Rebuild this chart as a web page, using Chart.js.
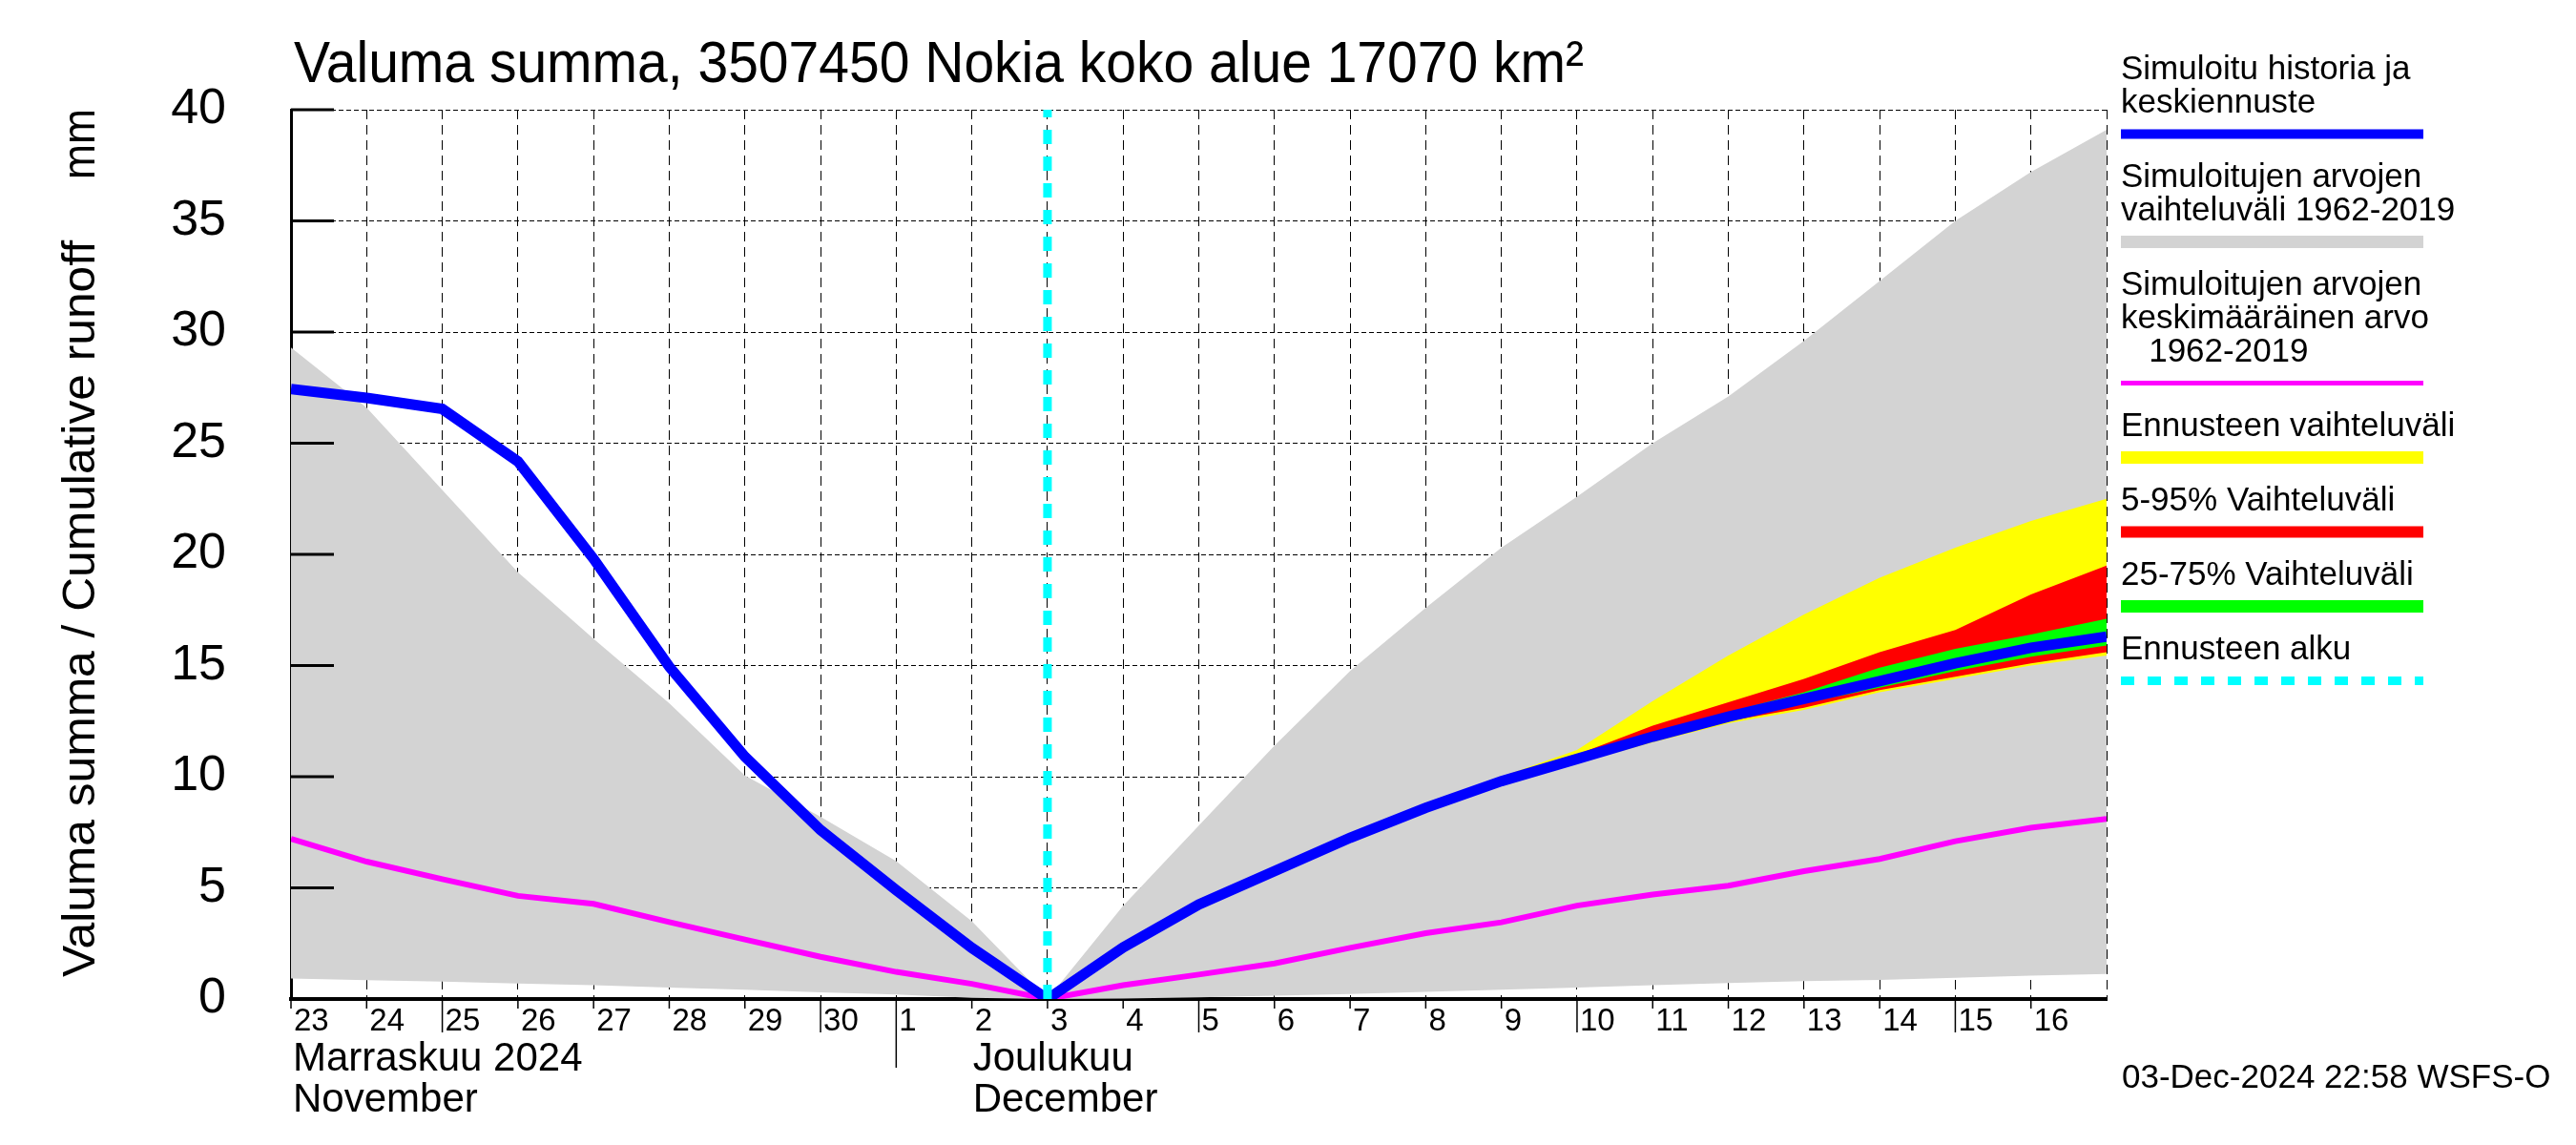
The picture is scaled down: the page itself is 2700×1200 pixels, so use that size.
<!DOCTYPE html>
<html lang="fi">
<head>
<meta charset="UTF-8">
<title>Valuma summa, 3507450 Nokia koko alue 17070 km²</title>
<script src="https://cdn.jsdelivr.net/npm/chart.js@4.4.1/dist/chart.umd.min.js"></script>
<style>
  body { margin: 0; background: #fff; }
  .container { position: relative; width: 2700px; height: 1200px; }
</style>
</head>
<body>
<div class="container"><canvas id="runoff"></canvas></div>
<script>
// x = days since 23 Nov 2024 00:00
const days = [0, 1, 2, 3, 4, 5, 6, 7, 8, 9, 10, 11, 12, 13, 14, 15, 16, 17, 18, 19, 20, 21, 22, 23, 24]
const dayLabels = ['23', '24', '25', '26', '27', '28', '29', '30', '1', '2', '3', '4', '5', '6', '7', '8', '9', '10', '11', '12', '13', '14', '15', '16']
const yTicks = [0, 5, 10, 15, 20, 25, 30, 35, 40]

// simulated history + median forecast (mm)
const simulated = [27.44, 27.04, 26.54, 24.18, 19.8, 14.95, 10.9, 7.6, 4.9, 2.3, 0, 2.32, 4.25, 5.75, 7.25, 8.6, 9.8, 10.8, 11.8, 12.7, 13.5, 14.3, 15.1, 15.8, 16.3]
// 1962-2019 range and mean
const histMax = [29.3, 26.6, 22.9, 19.2, 16.2, 13.3, 10.05, 8.2, 6.2, 3.5, 0, 4.2, 7.8, 11.4, 14.75, 17.6, 20.3, 22.6, 25.0, 27.1, 29.6, 32.3, 35.0, 37.2, 39.1]
const histMin = [0.92, 0.85, 0.78, 0.7, 0.62, 0.52, 0.42, 0.3, 0.2, 0.05, 0, 0.02, 0.07, 0.15, 0.22, 0.32, 0.42, 0.52, 0.62, 0.72, 0.8, 0.86, 0.95, 1.05, 1.13]
const histMean = [7.2, 6.18, 5.39, 4.64, 4.28, 3.46, 2.68, 1.9, 1.22, 0.68, 0, 0.62, 1.1, 1.6, 2.3, 2.96, 3.45, 4.2, 4.7, 5.1, 5.75, 6.3, 7.1, 7.7, 8.1]

// forecast spread, from forecast start
const fcDays = [10, 11, 12, 13, 14, 15, 16, 17, 18, 19, 20, 21, 22, 23, 24]
const fcMax = [0, 2.35, 4.3, 5.82, 7.35, 8.75, 10.0, 11.2, 13.4, 15.45, 17.3, 18.95, 20.3, 21.5, 22.5]
const fcMin = [0, 2.28, 4.2, 5.7, 7.18, 8.5, 9.7, 10.6, 11.55, 12.4, 13.0, 13.8, 14.4, 15.0, 15.45]
const fc95 = [0, 2.34, 4.28, 5.8, 7.32, 8.7, 9.9, 11.0, 12.3, 13.35, 14.4, 15.6, 16.6, 18.2, 19.5]
const fc5 = [0, 2.29, 4.21, 5.71, 7.2, 8.52, 9.72, 10.65, 11.6, 12.5, 13.1, 13.9, 14.5, 15.1, 15.6]
const fc75 = [0, 2.33, 4.26, 5.77, 7.28, 8.63, 9.85, 10.9, 11.95, 12.9, 13.8, 14.9, 15.75, 16.4, 17.1]
const fc25 = [0, 2.3, 4.23, 5.73, 7.22, 8.56, 9.76, 10.72, 11.7, 12.6, 13.3, 14.0, 14.75, 15.4, 15.9]

const forecastStart = 10

const FONT = '"Liberation Sans", Arial, sans-serif'
const pts = (xs, ys) => xs.map((x, i) => ({ x, y: ys[i] }))

const band = (data, color, order, fill) => ({
  data, order,
  fill: fill ? '+1' : false,
  backgroundColor: color,
  borderWidth: 0,
  pointRadius: 0,
})

const legendItems = [
  { lines: ['Simuloitu historia ja', 'keskiennuste'], color: '#0000ff', width: 10 },
  { lines: ['Simuloitujen arvojen', 'vaihteluväli 1962-2019'], color: '#d3d3d3', width: 13 },
  { lines: ['Simuloitujen arvojen', 'keskimääräinen arvo', '   1962-2019'], color: '#ff00ff', width: 5 },
  { lines: ['Ennusteen vaihteluväli'], color: '#ffff00', width: 13 },
  { lines: ['5-95% Vaihteluväli'], color: '#ff0000', width: 12 },
  { lines: ['25-75% Vaihteluväli'], color: '#00ff00', width: 13 },
  { lines: ['Ennusteen alku'], color: '#00ffff', width: 9, dash: [14, 14] },
]

// draw text squeezed/stretched to a given width
const fitText = (ctx, text, x, y, size, width) => {
  ctx.font = size + 'px ' + FONT
  const w = ctx.measureText(text).width
  ctx.save()
  ctx.translate(x, y)
  ctx.scale(width / w, 1)
  ctx.fillText(text, 0, 0)
  ctx.restore()
}

const extras = {
  id: 'extras',
  afterDraw(chart) {
    const { ctx, chartArea: a, scales: { x, y } } = chart
    const line = (x1, y1, x2, y2) => {
      ctx.beginPath(); ctx.moveTo(x1, y1); ctx.lineTo(x2, y2); ctx.stroke()
    }
    ctx.save()
    ctx.strokeStyle = '#000'
    ctx.lineWidth = 3
    yTicks.forEach(v => {
      const py = y.getPixelForValue(v)
      line(a.left, py, a.left + 45, py)
    })
    ctx.lineWidth = 1.5
    dayLabels.forEach((lab, d) => {
      const px = x.getPixelForValue(d)
      const len = d === 8 ? 72 : (Number(lab) % 5 === 0 ? 35 : 10)
      line(px, a.bottom, px, a.bottom + len)
    })

    ctx.fillStyle = '#000'
    ctx.textBaseline = 'alphabetic'
    ctx.textAlign = 'left'

    fitText(ctx, 'Valuma summa, 3507450 Nokia koko alue 17070 km²', 308, 86, 62, 1352)

    ctx.font = '42px ' + FONT
    ctx.fillText('Marraskuu 2024', x.getPixelForValue(0) + 2, 1122)
    ctx.fillText('November', x.getPixelForValue(0) + 2, 1165)
    ctx.fillText('Joulukuu', x.getPixelForValue(9) + 1, 1122)
    ctx.fillText('December', x.getPixelForValue(9) + 1, 1165)

    ctx.font = '35px ' + FONT
    ctx.fillText('03-Dec-2024 22:58 WSFS-O', 2224, 1140)

    // legend
    let ty = 83
    legendItems.forEach(item => {
      ctx.font = '35px ' + FONT
      item.lines.forEach(t => {
        ctx.fillText(t, 2223, ty)
        ty += 35
      })
      const by = ty - 35 + 22.5
      ctx.strokeStyle = item.color
      ctx.lineWidth = item.width
      ctx.setLineDash(item.dash || [])
      line(2223, by, 2540, by)
      ctx.setLineDash([])
      ty = by + 55.5
    })

    // y axis title
    ctx.translate(99, 1024)
    ctx.rotate(-Math.PI / 2)
    fitText(ctx, 'Valuma summa / Cumulative runoff', 0, 0, 48, 772)
    fitText(ctx, 'mm', 836, 0, 48, 74)
    ctx.restore()
  }
}

new Chart(document.getElementById('runoff'), {
  type: 'line',
  data: {
    datasets: [
      { data: pts([forecastStart, forecastStart], [0, 40]), order: 0, borderColor: '#00ffff', borderWidth: 9, borderDash: [15, 13], pointRadius: 0, fill: false },
      { data: pts(days, simulated), order: 1, borderColor: '#0000ff', borderWidth: 11, pointRadius: 0, fill: false },
      band(pts(fcDays, fc75), '#00ff00', 2, true),
      band(pts(fcDays, fc25), '#00ff00', 3, false),
      band(pts(fcDays, fc95), '#ff0000', 4, true),
      band(pts(fcDays, fc5), '#ff0000', 5, false),
      band(pts(fcDays, fcMax), '#ffff00', 6, true),
      band(pts(fcDays, fcMin), '#ffff00', 7, false),
      { data: pts(days, histMean), order: 8, borderColor: '#ff00ff', borderWidth: 6, pointRadius: 0, fill: false },
      band(pts(days, histMax), '#d3d3d3', 9, true),
      band(pts(days, histMin), '#d3d3d3', 10, false),
    ],
  },
  options: {
    responsive: true,
    maintainAspectRatio: false,
    animation: false,
    devicePixelRatio: 1,
    events: [],
    layout: { padding: { left: 0, top: 115, right: 492, bottom: 0 } },
    plugins: {
      legend: { display: false },
      title: { display: false },
      tooltip: { enabled: false },
    },
    scales: {
      x: {
        type: 'linear',
        min: 0,
        max: 24,
        z: 1,
        afterFit: (s) => { s.height = 153 },
        afterBuildTicks: (s) => { s.ticks = days.map(v => ({ value: v })) },
        ticks: {
          autoSkip: false,
          maxRotation: 0,
          align: 'start',
          labelOffset: 3,
          padding: 4,
          color: '#000',
          font: { family: FONT, size: 33 },
          callback: (v) => dayLabels[v] ?? '',
        },
        grid: { color: '#000', lineWidth: 1, drawTicks: false },
        border: { color: '#000', width: 4, dash: [10, 6] },
      },
      y: {
        min: 0,
        max: 40,
        z: 1,
        afterFit: (s) => { s.width = 305 },
        afterBuildTicks: (s) => { s.ticks = yTicks.map(v => ({ value: v })) },
        ticks: {
          padding: 68,
          color: '#000',
          font: { family: FONT, size: 52 },
          callback: (v) => String(v),
        },
        grid: { color: '#000', lineWidth: 1, drawTicks: false },
        border: { color: '#000', width: 3, dash: [5, 3] },
      },
    },
  },
  plugins: [extras],
})
</script>
</body>
</html>
